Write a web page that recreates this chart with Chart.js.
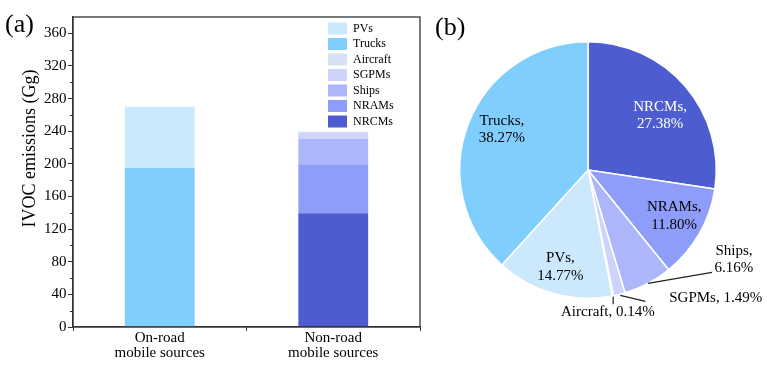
<!DOCTYPE html>
<html>
<head>
<meta charset="utf-8">
<script src="https://cdn.jsdelivr.net/npm/chart.js@4.4.1/dist/chart.umd.min.js"></script>
<style>
  html, body { margin: 0; padding: 0; background: #fff; }
  #wrap { position: relative; width: 767px; height: 372px; overflow: hidden; background: #fff; }
  #barCanvas { position: absolute; left: 0; top: 0; }
  #pieCanvas { position: absolute; left: 430px; top: 0; }
  .panel { position: absolute; font-family: 'Liberation Serif', 'Times New Roman', serif; font-size: 26px; line-height: 26px; color: #000; }
</style>
</head>
<body>
<div id="wrap">
  <canvas id="barCanvas" width="430" height="372"></canvas>
  <canvas id="pieCanvas" width="337" height="372"></canvas>
  <div class="panel" style="left:5px; top:11px;">(a)</div>
  <div class="panel" style="left:435px; top:14px;">(b)</div>
</div>
<script>
// ---------------- data ----------------
const categories = [['On-road', 'mobile sources'], ['Non-road', 'mobile sources']];
const sources = ['NRCMs', 'NRAMs', 'Ships', 'SGPMs', 'Aircraft', 'Trucks', 'PVs'];
const onRoadValues = [0, 0, 0, 0, 0, 194.8, 75.2];
const nonRoadValues = [139.4, 60.1, 31.4, 7.6, 0.7, 0, 0];
const yTickValues = [0, 40, 80, 120, 160, 200, 240, 280, 320, 360];
const yAxisTitle = 'IVOC emissions (Gg)';

const pieLabels = ['NRCMs', 'NRAMs', 'Ships', 'SGPMs', 'Aircraft', 'PVs', 'Trucks'];
const pieShares = [27.38, 11.80, 6.16, 1.49, 0.14, 14.77, 38.27];

// ---------------- styles ----------------
const colors = {
  NRCMs: '#4d5dd0',
  NRAMs: '#8f9dfa',
  Ships: '#adb6fb',
  SGPMs: '#cdd3fa',
  Aircraft: '#d6e2f4',
  PVs: '#cbe8fc',
  Trucks: '#80cefd'
};
const FONT = "'Liberation Serif', 'Times New Roman', serif";
const AXIS = '#333';
Chart.defaults.font.family = FONT;
Chart.defaults.color = '#000';

// ---------------- bar chart ----------------
const frameAndMinor = {
  id: 'frameAndMinor',
  afterDraw(chart) {
    const ctx = chart.ctx, a = chart.chartArea, y = chart.scales.y;
    ctx.save();
    ctx.strokeStyle = AXIS;
    ctx.lineWidth = 1.3;
    ctx.strokeRect(a.left, a.top, a.right - a.left, a.bottom - a.top);
    ctx.lineWidth = 1;
    for (let i = 0; i < yTickValues.length; i++) {
      const mid = yTickValues[i] + 20;
      if (mid >= y.max) continue;
      const py = Math.round(y.getPixelForValue(mid)) + 0.5;
      ctx.beginPath();
      ctx.moveTo(a.left - 3, py);
      ctx.lineTo(a.left, py);
      ctx.stroke();
    }
    // y-axis title
    ctx.translate(30, 148.5);
    ctx.rotate(-Math.PI / 2);
    ctx.font = '18px ' + FONT;
    ctx.fillStyle = '#000';
    ctx.textAlign = 'center';
    ctx.textBaseline = 'middle';
    ctx.fillText(yAxisTitle, 0, 0);
    ctx.restore();
  }
};
const legendPlacer = {
  id: 'legendPlacer',
  afterLayout(chart) {
    const lg = chart.legend;
    const pad = lg.options.labels.padding;
    lg.left = 328 - pad;
    lg.top = 22.5 - pad;
  }
};

new Chart(document.getElementById('barCanvas'), {
  type: 'bar',
  data: {
    labels: categories,
    datasets: sources.map((s, i) => ({
      label: s,
      data: [onRoadValues[i], nonRoadValues[i]],
      backgroundColor: colors[s],
      borderWidth: 0,
      categoryPercentage: 0.5,
      barPercentage: 0.805
    }))
  },
  options: {
    responsive: false,
    animation: false,
    layout: { padding: { top: 17, right: 10, left: 0, bottom: 0 } },
    plugins: {
      tooltip: { enabled: false },
      legend: {
        position: 'chartArea',
        align: 'start',
        reverse: true,
        labels: {
          boxWidth: 19,
          boxHeight: 12,
          padding: 3.5,
          color: '#000',
          font: { family: FONT, size: 12 }
        }
      }
    },
    scales: {
      x: {
        stacked: true,
        grid: { display: true, drawOnChartArea: false, offset: true, tickLength: 4, color: AXIS },
        border: { color: AXIS, width: 1.3 },
        ticks: { font: { family: FONT, size: 15, lineHeight: 1.0 }, color: '#000', padding: 0, maxRotation: 0 },
        afterFit(s) { s.height = 45; }
      },
      y: {
        stacked: true,
        min: 0,
        max: 380,
        afterBuildTicks(s) { s.ticks = yTickValues.map(v => ({ value: v })); },
        grid: { display: true, drawOnChartArea: false, tickLength: 5, color: AXIS },
        border: { color: AXIS, width: 1.3 },
        ticks: { font: { family: FONT, size: 15 }, color: '#000', padding: 1.5 },
        title: { display: false },
        afterFit(s) { s.width = 73; }
      }
    }
  },
  plugins: [frameAndMinor, legendPlacer]
});

// ---------------- pie chart ----------------
const pieLabelStyle = {
  NRCMs:   { mode: 'in', f: 0.705, da: 3.6, color: '#fff' },
  NRAMs:   { mode: 'in', f: 0.761, da: -1.8, color: '#000' },
  PVs:     { mode: 'in', f: 0.786, da: 0.2, color: '#000' },
  Trucks:  { mode: 'in', f: 0.742, da: 4.0, color: '#000' },
  Ships:   { mode: 'out', line: [0, 0, 64, -11], tx: 86, ty: [-32.4, -15.4], align: 'center', twoLine: true },
  SGPMs:   { mode: 'out', line: [1, 1, 26, 7], tx: 50, ty: [3.6], align: 'left', twoLine: false },
  Aircraft:{ mode: 'out', line: [0.3, 1, 0.3, 8.5], tx: -5, ty: [16], align: 'center', twoLine: false }
};

const pieText = {
  id: 'pieText',
  afterDatasetsDraw(chart) {
    const ctx = chart.ctx;
    const meta = chart.getDatasetMeta(0);
    ctx.save();
    ctx.font = '15px ' + FONT;
    ctx.textBaseline = 'middle';
    meta.data.forEach((arc, i) => {
      const name = pieLabels[i];
      const pct = pieShares[i].toFixed(2) + '%';
      const st = pieLabelStyle[name];
      const p = arc.getProps(['x', 'y', 'startAngle', 'endAngle', 'outerRadius'], true);
      const mid = (p.startAngle + p.endAngle) / 2;
      if (st.mode === 'in') {
        const a = mid + st.da * Math.PI / 180;
        const cx = p.x + Math.cos(a) * p.outerRadius * st.f;
        const cy = p.y + Math.sin(a) * p.outerRadius * st.f;
        ctx.fillStyle = st.color;
        ctx.textAlign = 'center';
        ctx.fillText(name + ',', cx, cy - 8.75);
        ctx.fillText(pct, cx, cy + 8.75);
      } else {
        const ex = p.x + Math.cos(mid) * p.outerRadius;
        const ey = p.y + Math.sin(mid) * p.outerRadius;
        ctx.strokeStyle = '#222';
        ctx.lineWidth = 1.2;
        ctx.beginPath();
        ctx.moveTo(ex + st.line[0], ey + st.line[1]);
        ctx.lineTo(ex + st.line[2], ey + st.line[3]);
        ctx.stroke();
        ctx.fillStyle = '#000';
        ctx.textAlign = st.align;
        if (st.twoLine) {
          ctx.fillText(name + ',', ex + st.tx, ey + st.ty[0]);
          ctx.fillText(pct, ex + st.tx, ey + st.ty[1]);
        } else {
          ctx.fillText(name + ', ' + pct, ex + st.tx, ey + st.ty[0]);
        }
      }
    });
    ctx.restore();
  }
};

new Chart(document.getElementById('pieCanvas'), {
  type: 'pie',
  data: {
    labels: pieLabels,
    datasets: [{
      data: pieShares,
      backgroundColor: pieLabels.map(n => colors[n]),
      borderColor: '#fff',
      borderWidth: 1.5
    }]
  },
  options: {
    responsive: false,
    animation: false,
    layout: { padding: { left: 29, top: 41, right: 50, bottom: 73 } },
    plugins: { legend: { display: false }, tooltip: { enabled: false } }
  },
  plugins: [pieText]
});
</script>
</body>
</html>
